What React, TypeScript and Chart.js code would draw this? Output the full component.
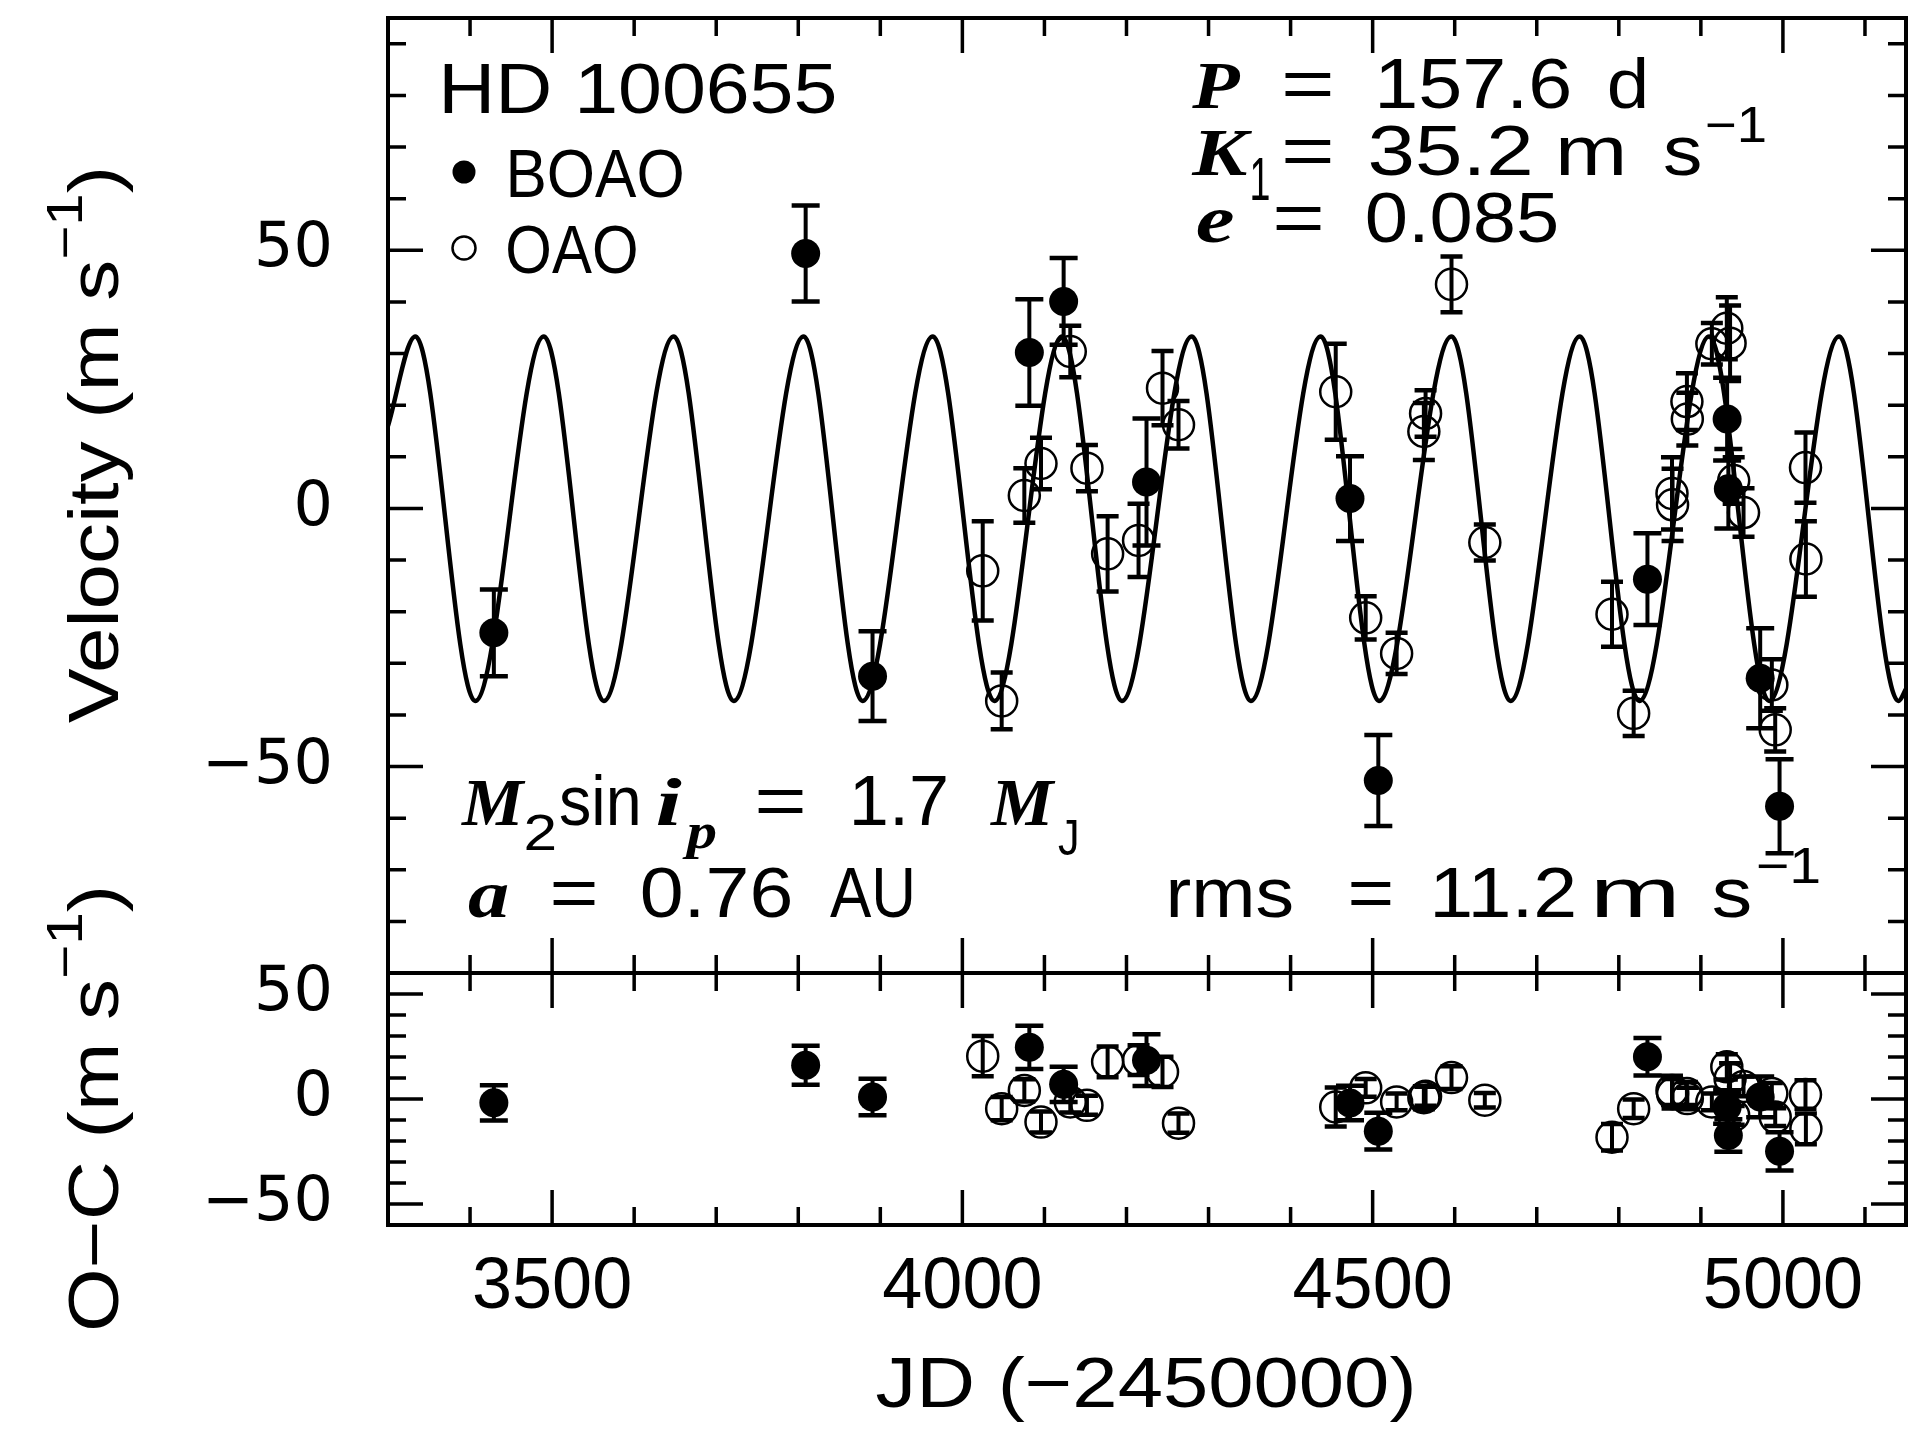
import React, { useEffect, useRef } from "react";
import { Chart, registerables } from "chart.js";

Chart.register(...registerables);

// ---------------- data ----------------
const jdMin = 3300;
const jdMax = 5150;
const jdMajorTicks = [3500, 4000, 4500, 5000];
const jdMinorStep = 100;

const velMin = -90;
const velMax = 95;
const velTicks = [-50, 0, 50];
const ocMin = -60;
const ocMax = 60;
const ocTicks = [-50, 0, 50];
const yMinorStep = 10;

// orbital fit curve: extremes
const fitJd = [3300, 3333.3, 3406.3, 3489.9, 3563.0, 3648.2, 3721.3, 3806.5, 3878.3, 3963.9, 4039.0, 4121.5, 4194.4, 4279.6, 4351.5, 4436.7, 4507.7, 4596.1, 4668.0, 4752.4, 4825.0, 4910.0, 4983.3, 5068.5, 5140.8, 5150];
const fitVel = [16, 33.3, -37.3, 33.3, -37.3, 33.3, -37.3, 33.3, -37.3, 33.3, -37.3, 33.3, -37.3, 33.3, -37.3, 33.3, -37.3, 33.3, -37.3, 33.3, -37.3, 33.3, -37.3, 33.3, -37.3, -35];

// BOAO
const boaoJd = [3429, 3809, 3890.5, 4081.6, 4123.4, 4224.4, 4472.4, 4506.9, 4834.9, 4932, 4933.5, 4972.3, 4995.9];
const boaoVel = [-24.1, 49.4, -32.5, 30.2, 40.1, 5.1, 1.9, -52.7, -13.7, 17.3, 3.8, -32.9, -57.7];
const boaoErr = [8.4, 9.3, 8.7, 10.3, 8.4, 12.3, 8.2, 8.8, 8.9, 8.0, 7.7, 9.7, 9.1];
const boaoOC = [-1.8, 16.1, 1.0, 24.6, 7.0, 18.5, -1.9, -15.3, 20.1, -3.8, -17.4, 1.0, -24.9];

// OAO
const oaoJd = [4024.8, 4047.9, 4075.5, 4095.8, 4131.5, 4151.8, 4177, 4214.7, 4243.9, 4263.4, 4455, 4491.5, 4529.2, 4562.4, 4564.5, 4596.1, 4636.7, 4791.7, 4818.1, 4864.8, 4865.5, 4883, 4883.5, 4913.4, 4931.6, 4935.6, 4940, 4952, 4986.5, 4990.6, 5027.5, 5028];
const oaoVel = [-12.1, -37.3, 2.5, 8.7, 30.4, 7.8, -8.8, -6.2, 23.3, 16.2, 22.6, -21.2, -28.1, 14.9, 18.4, 43.4, -6.6, -20.5, -39.7, 2.9, 0.7, 20.7, 17.3, 31.9, 34.9, 32.0, 5.4, -0.8, -34.2, -42.9, 7.9, -9.8];
const oaoErr = [9.6, 5.5, 5.3, 5.0, 5.0, 4.5, 7.3, 7.1, 7.2, 4.6, 9.3, 4.2, 4.0, 5.5, 4.5, 5.4, 3.5, 6.3, 4.4, 7.0, 7.0, 5.5, 5.1, 4.0, 6.0, 7.3, 4.5, 4.7, 5.0, 4.2, 6.8, 7.3];
const oaoOC = [20.4, -4.6, 4.1, -11.0, -1.4, -3.0, 17.7, 18.5, 12.9, -11.5, -3.8, 5.3, -1.4, 0.6, 1.3, 10.2, -0.6, -18.2, -4.6, 4.1, 2.5, 2.6, 0.2, -1.4, 15.3, 9.7, -7.8, 6.0, 2.6, -8.6, 2.1, -14.2];

// ---------------- styling helpers ----------------
const SANS = "'Liberation Sans', Arial, sans-serif";
const SERIF = "'Liberation Serif', 'Times New Roman', serif";
const F70 = `70px ${SANS}`;
const F68 = `68px ${SANS}`;
const F62 = `62px ${SANS}`;
const F50 = `50px ${SANS}`;
const IT = `italic bold 68px ${SERIF}`;
const IT50 = `italic bold 50px ${SERIF}`;

type Piece = { t: string; x: number; y: number; font: string; w?: number };
type RunPart = { t: string; font: string; dy?: number };
type Run = { x: number; y: number; angle: number; len: number; center?: boolean; parts: RunPart[] };
type Marker = { x: number; y: number; r: number; filled: boolean };

function drawPiece(ctx: CanvasRenderingContext2D, p: Piece) {
  ctx.save();
  ctx.font = p.font;
  ctx.fillStyle = "#000";
  ctx.textAlign = "left";
  ctx.textBaseline = "alphabetic";
  const m = ctx.measureText(p.t);
  const l = m.actualBoundingBoxLeft;
  const vis = m.actualBoundingBoxLeft + m.actualBoundingBoxRight;
  const sx = p.w && vis > 0 ? p.w / vis : 1;
  ctx.translate(p.x + l * sx, p.y);
  ctx.scale(sx, 1);
  ctx.fillText(p.t, 0, 0);
  ctx.restore();
}

function drawRun(ctx: CanvasRenderingContext2D, run: Run) {
  ctx.save();
  ctx.fillStyle = "#000";
  ctx.textAlign = "left";
  ctx.textBaseline = "alphabetic";
  let nat = 0;
  const widths = run.parts.map((pt) => {
    ctx.font = pt.font;
    const w = ctx.measureText(pt.t).width;
    nat += w;
    return w;
  });
  const sx = run.len / nat;
  ctx.translate(run.x, run.y);
  ctx.rotate(run.angle);
  if (run.center) ctx.translate(-run.len / 2, 0);
  ctx.scale(sx, 1);
  let cur = 0;
  run.parts.forEach((pt, i) => {
    ctx.font = pt.font;
    ctx.fillText(pt.t, cur, pt.dy || 0);
    cur += widths[i];
  });
  ctx.restore();
}

const fmtTick = (v: number) => (v < 0 ? "\u2212" + Math.abs(v) : String(v));

// ---------------- plugins ----------------
const errorBarPlugin = {
  id: "errorBars",
  afterDatasetsDraw(chart: any) {
    const { ctx, chartArea: a } = chart;
    const ys = chart.scales.y;
    ctx.save();
    ctx.beginPath();
    ctx.rect(a.left, a.top, a.right - a.left, a.bottom - a.top);
    ctx.clip();
    ctx.strokeStyle = "#000";
    ctx.lineCap = "butt";
    chart.data.datasets.forEach((ds: any, i: number) => {
      if (!ds.errors) return;
      const meta = chart.getDatasetMeta(i);
      meta.data.forEach((pt: any, j: number) => {
        const v = ds.data[j].y;
        const e = ds.errors[j];
        const yTop = ys.getPixelForValue(v + e);
        const yBot = ys.getPixelForValue(v - e);
        const x = pt.x;
        const hw = ds.capHalf;
        ctx.lineWidth = 4;
        ctx.beginPath();
        ctx.moveTo(x, yTop);
        ctx.lineTo(x, yBot);
        ctx.stroke();
        ctx.lineWidth = 4.5;
        ctx.beginPath();
        ctx.moveTo(x - hw, yTop);
        ctx.lineTo(x + hw, yTop);
        ctx.moveTo(x - hw, yBot);
        ctx.lineTo(x + hw, yBot);
        ctx.stroke();
      });
    });
    ctx.restore();
  },
};

const frameTickPlugin = {
  id: "frameTicks",
  afterDatasetsDraw(chart: any, _args: any, opts: any) {
    const { ctx, chartArea: a } = chart;
    const xs = chart.scales.x;
    const ys = chart.scales.y;
    const MAJ = 35;
    const MIN = 18;
    ctx.save();
    ctx.strokeStyle = "#000";
    ctx.lineWidth = 3.5;
    ctx.lineCap = "butt";
    ctx.beginPath();
    for (let v = Math.ceil(xs.min / jdMinorStep) * jdMinorStep; v <= xs.max; v += jdMinorStep) {
      if (v <= xs.min || v >= xs.max) continue;
      const len = jdMajorTicks.includes(v) ? MAJ : MIN;
      const px = xs.getPixelForValue(v);
      ctx.moveTo(px, a.top);
      ctx.lineTo(px, a.top + len);
      ctx.moveTo(px, a.bottom);
      ctx.lineTo(px, a.bottom - len);
    }
    const majors: number[] = opts.yMajor;
    for (let v = Math.ceil(ys.min / yMinorStep) * yMinorStep; v <= ys.max; v += yMinorStep) {
      if (v <= ys.min || v >= ys.max) continue;
      const len = majors.includes(v) ? MAJ : MIN;
      const py = ys.getPixelForValue(v);
      ctx.moveTo(a.left, py);
      ctx.lineTo(a.left + len, py);
      ctx.moveTo(a.right, py);
      ctx.lineTo(a.right - len, py);
    }
    ctx.stroke();
    ctx.lineWidth = 4;
    ctx.strokeRect(a.left, a.top, a.right - a.left, a.bottom - a.top);
    ctx.restore();
  },
};

const annotationPlugin = {
  id: "annotations",
  afterDraw(chart: any, _args: any, opts: any) {
    const ctx = chart.ctx as CanvasRenderingContext2D;
    (opts.pieces || []).forEach((p: Piece) => drawPiece(ctx, p));
    (opts.runs || []).forEach((r: Run) => drawRun(ctx, r));
    (opts.markers || []).forEach((m: Marker) => {
      ctx.save();
      ctx.beginPath();
      ctx.arc(m.x, m.y, m.r, 0, Math.PI * 2);
      if (m.filled) {
        ctx.fillStyle = "#000";
        ctx.fill();
      } else {
        ctx.strokeStyle = "#000";
        ctx.lineWidth = 2.5;
        ctx.stroke();
      }
      ctx.restore();
    });
  },
};

// ---------------- annotation content ----------------
const topPieces: Piece[] = [
  { t: "HD 100655", x: 444, y: 113, font: F70, w: 390 },
  { t: "BOAO", x: 510, y: 197, font: F68, w: 172 },
  { t: "OAO", x: 508, y: 273, font: F68, w: 128 },
  { t: "P", x: 1191, y: 108, font: IT, w: 49 },
  { t: "=", x: 1285, y: 108, font: F70, w: 46 },
  { t: "157.6", x: 1380, y: 108, font: F70, w: 189 },
  { t: "d", x: 1609, y: 108, font: F70, w: 36 },
  { t: "K", x: 1191, y: 175, font: IT, w: 62 },
  { t: "1", x: 1252, y: 200, font: F62, w: 17 },
  { t: "=", x: 1285, y: 175, font: F70, w: 46 },
  { t: "35.2", x: 1370, y: 175, font: F70, w: 160 },
  { t: "m", x: 1560, y: 175, font: F70, w: 62 },
  { t: "s", x: 1664, y: 175, font: F70, w: 36 },
  { t: "\u22121", x: 1707, y: 142, font: F50, w: 58 },
  { t: "e", x: 1197, y: 242, font: IT, w: 36 },
  { t: "=", x: 1276, y: 242, font: F70, w: 45 },
  { t: "0.085", x: 1367, y: 242, font: F70, w: 189 },
  { t: "M", x: 461, y: 825, font: IT, w: 65 },
  { t: "2", x: 526, y: 850, font: F50, w: 29 },
  { t: "sin", x: 560, y: 825, font: F70, w: 78 },
  { t: "i", x: 657, y: 825, font: IT, w: 25 },
  { t: "p", x: 682, y: 848, font: IT50, w: 34 },
  { t: "=", x: 758, y: 825, font: F70, w: 45 },
  { t: "1.7", x: 854, y: 825, font: F70, w: 92 },
  { t: "M", x: 990, y: 825, font: IT, w: 66 },
  { t: "J", x: 1058, y: 855, font: F50, w: 19 },
  { t: "a", x: 468, y: 917, font: IT, w: 40 },
  { t: "=", x: 553, y: 917, font: F70, w: 42 },
  { t: "0.76", x: 642, y: 917, font: F70, w: 148 },
  { t: "AU", x: 830, y: 917, font: F70, w: 82 },
  { t: "rms", x: 1170, y: 917, font: F70, w: 122 },
  { t: "=", x: 1351, y: 917, font: F70, w: 40 },
  { t: "11.2", x: 1435, y: 917, font: F70, w: 139 },
  { t: "m", x: 1596, y: 917, font: F70, w: 78 },
  { t: "s", x: 1713, y: 917, font: F70, w: 37 },
  { t: "\u22121", x: 1758, y: 883, font: F50, w: 61 },
];

const velTitle: Run = {
  x: 118, y: 723, angle: -Math.PI / 2, len: 557,
  parts: [
    { t: "Velocity (m s", font: F70 },
    { t: "\u22121", font: F50, dy: -36 },
    { t: ")", font: F70 },
  ],
};
const ocTitle: Run = {
  x: 118, y: 1332, angle: -Math.PI / 2, len: 447,
  parts: [
    { t: "O\u2212C (m s", font: F70 },
    { t: "\u22121", font: F50, dy: -36 },
    { t: ")", font: F70 },
  ],
};
const jdTitle: Run = {
  x: 1146, y: 1407, angle: 0, len: 541, center: true,
  parts: [{ t: "JD (\u22122450000)", font: F70 }],
};

const legendMarkers: Marker[] = [
  { x: 464, y: 172, r: 11.5, filled: true },
  { x: 464, y: 248, r: 11.5, filled: false },
];

// ---------------- chart builders ----------------
function yScale(min: number, max: number, ticks: number[]) {
  return {
    type: "linear",
    position: "left",
    min,
    max,
    afterBuildTicks: (s: any) => {
      s.ticks = ticks.map((v) => ({ value: v }));
    },
    afterFit: (s: any) => {
      s.width = 388;
      s.paddingTop = 0;
      s.paddingBottom = 0;
    },
    ticks: {
      color: "#000",
      padding: 55,
      font: { family: "'DejaVu Sans', sans-serif", size: 62 },
      callback: (v: number) => fmtTick(v),
    },
    grid: { display: false, drawTicks: false },
    border: { display: false },
  };
}

function makeDatasets(yB: number[], yO: number[]) {
  return [
    {
      label: "BOAO",
      data: boaoJd.map((x, i) => ({ x, y: yB[i] })),
      errors: boaoErr,
      capHalf: 14,
      pointStyle: "circle",
      pointRadius: 14.5,
      pointBackgroundColor: "#000",
      pointBorderColor: "#000",
      pointBorderWidth: 0,
      showLine: false,
      order: 1,
    },
    {
      label: "OAO",
      data: oaoJd.map((x, i) => ({ x, y: yO[i] })),
      errors: oaoErr,
      capHalf: 11,
      pointStyle: "circle",
      pointRadius: 15.5,
      pointBackgroundColor: "rgba(0,0,0,0)",
      pointBorderColor: "#000",
      pointBorderWidth: 2.5,
      showLine: false,
      order: 2,
    },
  ];
}

export default function App() {
  const topRef = useRef<HTMLCanvasElement>(null);
  const botRef = useRef<HTMLCanvasElement>(null);

  useEffect(() => {
    const common = {
      responsive: false,
      maintainAspectRatio: false,
      animation: false,
      devicePixelRatio: 1,
      events: [],
    };

    const topCfg: any = {
      type: "scatter",
      data: {
        datasets: [
          {
            label: "fit",
            data: fitJd.map((x, i) => ({ x, y: fitVel[i] })),
            showLine: true,
            cubicInterpolationMode: "monotone",
            borderColor: "#000",
            borderWidth: 4.5,
            pointRadius: 0,
            fill: false,
            order: 3,
          },
          ...makeDatasets(boaoVel, oaoVel),
        ],
      },
      options: {
        ...common,
        layout: { padding: { left: 0, top: 12, right: 15, bottom: 1445 - 973 } },
        scales: {
          x: { type: "linear", min: jdMin, max: jdMax, display: false },
          y: yScale(velMin, velMax, velTicks),
        },
        plugins: {
          legend: { display: false },
          tooltip: { enabled: false },
          frameTicks: { yMajor: velTicks },
          annotations: { pieces: topPieces, runs: [velTitle], markers: legendMarkers },
        },
      },
      plugins: [errorBarPlugin, frameTickPlugin, annotationPlugin],
    };

    const botCfg: any = {
      type: "scatter",
      data: { datasets: makeDatasets(boaoOC, oaoOC) },
      options: {
        ...common,
        layout: { padding: { left: 0, top: 973, right: 15, bottom: 0 } },
        scales: {
          x: {
            type: "linear",
            position: "bottom",
            min: jdMin,
            max: jdMax,
            afterBuildTicks: (s: any) => {
              s.ticks = jdMajorTicks.map((v) => ({ value: v }));
            },
            afterFit: (s: any) => {
              s.height = 220;
              s.paddingLeft = 0;
              s.paddingRight = 0;
            },
            ticks: {
              color: "#000",
              padding: 20,
              maxRotation: 0,
              autoSkip: false,
              font: { family: SANS, size: 72 },
              callback: (v: number) => String(v),
            },
            grid: { display: false, drawTicks: false },
            border: { display: false },
          },
          y: yScale(ocMin, ocMax, ocTicks),
        },
        plugins: {
          legend: { display: false },
          tooltip: { enabled: false },
          frameTicks: { yMajor: ocTicks },
          annotations: { runs: [ocTitle, jdTitle] },
        },
      },
      plugins: [errorBarPlugin, frameTickPlugin, annotationPlugin],
    };

    const c1 = new Chart(topRef.current as HTMLCanvasElement, topCfg);
    const c2 = new Chart(botRef.current as HTMLCanvasElement, botCfg);
    return () => {
      c1.destroy();
      c2.destroy();
    };
  }, []);

  const cs: React.CSSProperties = { position: "absolute", left: 0, top: 0, width: 1924, height: 1445 };
  return (
    <div style={{ position: "fixed", left: 0, top: 0, width: 1924, height: 1445, background: "#fff", overflow: "hidden" }}>
      <canvas ref={topRef} width={1924} height={1445} style={cs} />
      <canvas ref={botRef} width={1924} height={1445} style={cs} />
    </div>
  );
}
